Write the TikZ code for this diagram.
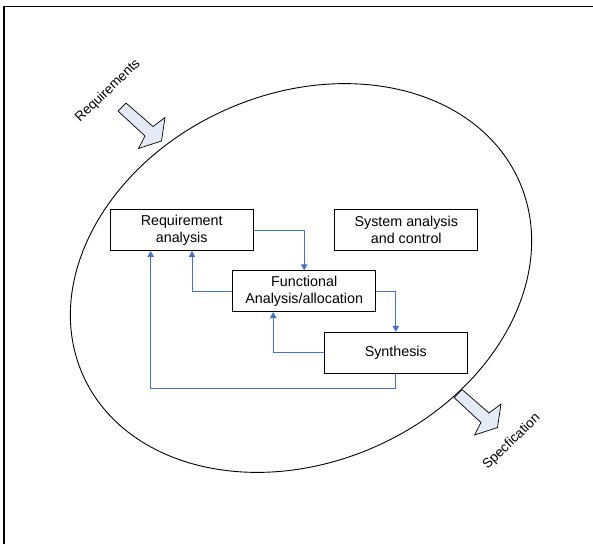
\documentclass[tikz,border=0pt]{standalone}
\usepackage{fontspec}
\setmainfont{Liberation Sans}
\usepackage{tikz}
\usepackage{pgf}
\usetikzlibrary{arrows.meta}
\definecolor{linkblue}{RGB}{68,114,196}
\definecolor{arrowfill}{RGB}{228,234,246}
\newcommand{\fatarrow}[1]{\draw[fat,shift={#1}] (126,103) -- (153,126.5) -- (165,117.5) -- (161.5,141) -- (138.5,148.5) -- (145,136) -- (118,111) -- cycle;}

\begin{document}
\begin{tikzpicture}[x=1pt,y=-1pt,
  blk/.style={draw, line width=0.9pt, minimum width=143pt, minimum height=41pt, align=center, font=\fontsize{14.3}{17}\selectfont},
  link/.style={draw=linkblue, line width=1pt, -{Triangle[length=6pt,width=6.5pt]}},
  fat/.style={draw, line width=0.7pt, fill=arrowfill, line join=miter},
  lbl/.style={rotate=44, font=\fontsize{13.5}{15}\selectfont}]
  \useasboundingbox (0,0) rectangle (593,544);
  \draw[line width=1.7pt] (4.3,544) -- (4.3,6.5) -- (593,6.5);
  \draw[line width=0.9pt, rotate around={24:(301,278)}] (301,278) ellipse [x radius=238.7, y radius=184.3];

  \fatarrow{(0,0)}
  \fatarrow{(336,286.5)}
  \node[lbl] (reqlbl) at (108,91) {Requirements};
  \node[lbl] (speclbl) at (511.7,441.7) {Specfication};

  \node[blk] (ReqAn) at (181.7,230) {Requirement\\analysis};
  \node[blk] (SysAn) at (406.3,230) {System analysis\\and control};
  \node[blk] (FunAn) at (304.2,291.2) {Functional\\Analysis/allocation};
  \node[blk] (Synth) at (395.8,352.7) {Synthesis};

  \draw[link] (ReqAn.east) -| (FunAn.north);
  \draw[link] (FunAn.west) -| ([xshift=10.3pt]ReqAn.south);
  \draw[link] (FunAn.east) -| (Synth.north);
  \draw[link] (Synth.west) -| ([xshift=-31pt]FunAn.south);
  \draw[link] (Synth.south) -- ++(0,15) -| ([xshift=-31pt]ReqAn.south);
\end{tikzpicture}
\end{document}
